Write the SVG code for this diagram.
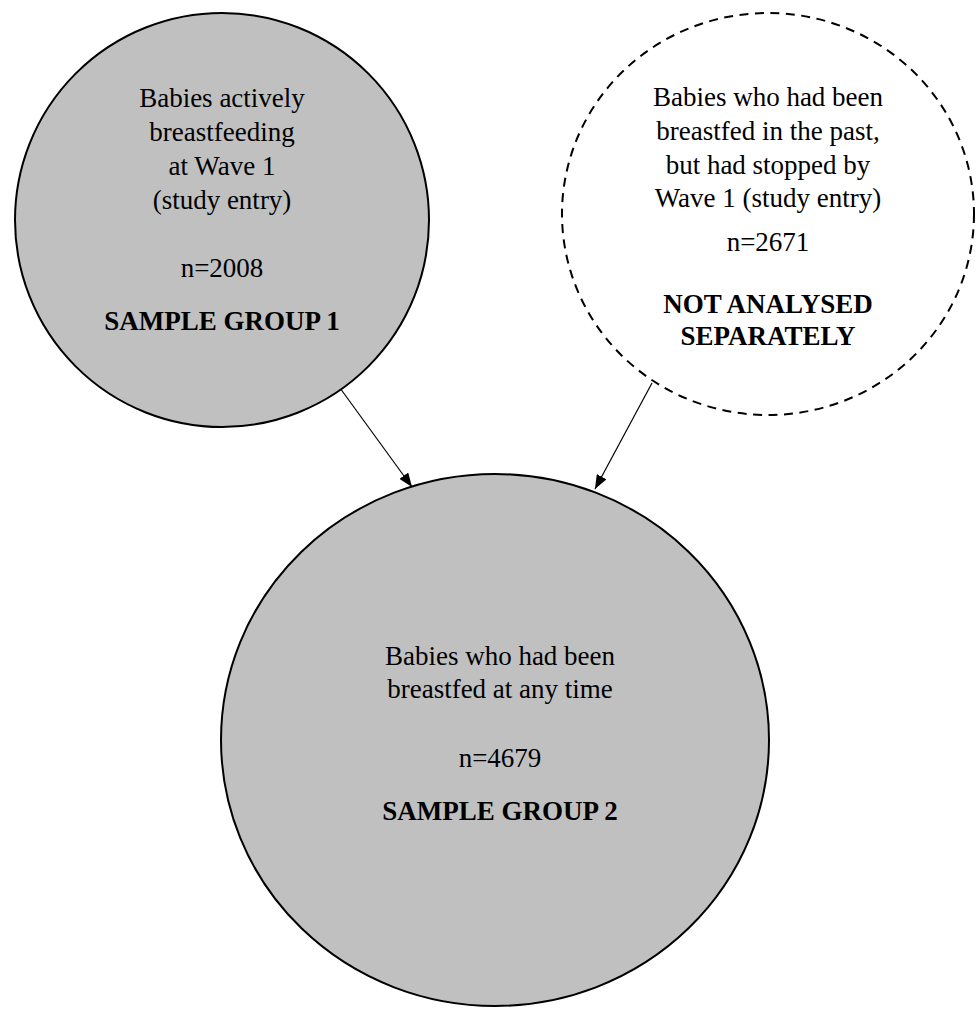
<svg xmlns="http://www.w3.org/2000/svg" width="978" height="1009" viewBox="0 0 978 1009">
<style>
.node{fill:#c0c0c0;stroke:#000;stroke-width:2}
.dashed{fill:#fff;stroke:#000;stroke-width:2;stroke-dasharray:9 6.5}
text{font-family:"Liberation Serif","Times New Roman",serif;font-size:27px;fill:#000;text-anchor:middle}
.b{font-weight:bold}
.conn{stroke:#000;stroke-width:1.2;fill:none}
</style>
<defs>
<marker id="arr" markerUnits="userSpaceOnUse" markerWidth="14" markerHeight="11" refX="14" refY="5.5" orient="auto">
<path d="M0,0 L14,5.5 L0,11 z" fill="#000"/>
</marker>
</defs>
<g id="connectors">
<line class="conn" x1="340" y1="388" x2="412" y2="487" marker-end="url(#arr)"/>
<line class="conn" x1="652" y1="383" x2="595" y2="489" marker-end="url(#arr)"/>
</g>
<g id="group1">
<circle class="node" cx="222" cy="220" r="207"/>
<text x="222" y="107">Babies actively</text>
<text x="222" y="141">breastfeeding</text>
<text x="222" y="175">at Wave 1</text>
<text x="222" y="209">(study entry)</text>
<text x="222" y="277">n=2008</text>
<text x="222" y="330" class="b">SAMPLE GROUP 1</text>
</g>
<g id="notanalysed">
<ellipse class="dashed" cx="768" cy="214" rx="206" ry="201"/>
<text x="768" y="106">Babies who had been</text>
<text x="768" y="140">breastfed in the past,</text>
<text x="768" y="174">but had stopped by</text>
<text x="768" y="207">Wave 1 (study entry)</text>
<text x="768" y="251">n=2671</text>
<text x="768" y="313" class="b">NOT ANALYSED</text>
<text x="768" y="345" class="b">SEPARATELY</text>
</g>
<g id="group2">
<ellipse class="node" cx="495" cy="740" rx="274" ry="266"/>
<text x="500" y="665">Babies who had been</text>
<text x="500" y="698">breastfed at any time</text>
<text x="500" y="767">n=4679</text>
<text x="500" y="820" class="b">SAMPLE GROUP 2</text>
</g>
</svg>
